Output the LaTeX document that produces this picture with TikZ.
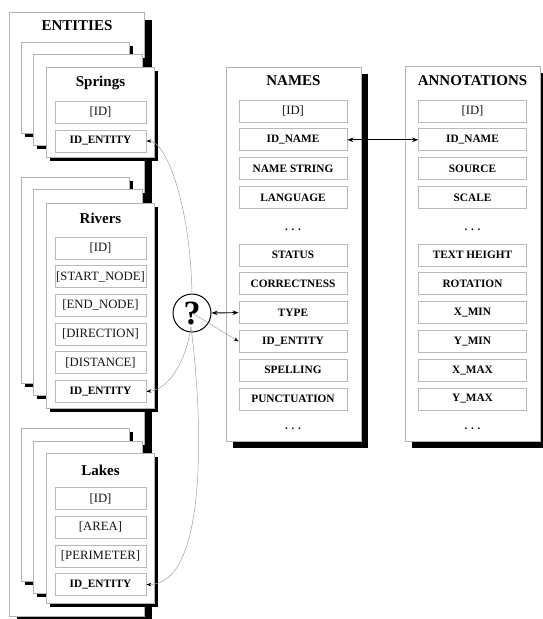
\documentclass[tikz,border=0pt]{standalone}
\usepackage{fontspec}
\setmainfont{Liberation Serif}
\usetikzlibrary{arrows.meta}

\tikzset{
  panel/.style={draw=gray!60, fill=white, line width=0.8pt},
  field/.style={draw=gray!55, fill=white, line width=0.8pt, minimum height=22pt, inner sep=0pt, text=black},
  keyfield/.style={field, font=\fontsize{11.3}{13}\selectfont\bfseries},
  attrfield/.style={field, font=\fontsize{12.7}{14}\selectfont, text=black!92},
  smallfield/.style={minimum width=91pt},
  widefield/.style={minimum width=108pt},
  heading/.style={font=\fontsize{15}{17}\selectfont\bfseries},
  ellip/.style={font=\fontsize{11}{13}\selectfont\bfseries},
  biarrow/.style={draw=black, line width=0.9pt, {Stealth[length=6pt,width=4.5pt]}-{Stealth[length=6pt,width=4.5pt]}},
  link/.style={draw=gray!75, line width=0.5pt, -{Stealth[length=5pt,width=3.5pt,color=black]}},
  query/.style={draw=black, circle, line width=1pt, minimum size=38pt, inner sep=0pt, fill=white, font=\fontsize{34}{36}\selectfont\bfseries},
}

% a card with a black drop shadow: x1 y1 x2 y2 offset
\newcommand\cardbox[5]{%
  \fill[black] (#1+#5,#2+#5) rectangle (#3+#5,#4+#5);
  \draw[panel] (#1,#2) rectangle (#3,#4);
}

\begin{document}
\begin{tikzpicture}[x=1pt,y=-1pt]
\useasboundingbox (0,0) rectangle (543,619);
\clip (0,0) rectangle (543,619);

% ---------------- ENTITIES ----------------
\cardbox{9}{12}{144}{616}{7.5}
\node[heading] (enttitle) at (77,26) {ENTITIES};

% Springs
\cardbox{21}{42}{129}{133}{3.5}
\cardbox{33}{54}{142}{145}{3.5}
\cardbox{46}{67}{154}{157}{3.5}
\node[heading] (sptitle) at (100.5,83) {Springs};
\node[attrfield,smallfield] (sp-id) at (100.5,112) {[ID]};
\node[keyfield,smallfield] (sp-ent) at (100.5,141) {ID\_ENTITY};

% Rivers
\cardbox{21}{177}{129}{383}{3.5}
\cardbox{33}{189}{142}{395}{3.5}
\cardbox{46}{203}{154}{408}{3.5}
\node[heading] (rvtitle) at (100.5,218) {Rivers};
\node[attrfield,smallfield] (rv-id) at (100.5,248) {[ID]};
\node[attrfield,smallfield] (rv-start) at (100.5,276.7) {[START\_NODE]};
\node[attrfield,smallfield] (rv-end) at (100.5,305.4) {[END\_NODE]};
\node[attrfield,smallfield] (rv-dir) at (100.5,334.1) {[DIRECTION]};
\node[attrfield,smallfield] (rv-dist) at (100.5,362.8) {[DISTANCE]};
\node[keyfield,smallfield] (rv-ent) at (100.5,391.5) {ID\_ENTITY};

% Lakes
\cardbox{21}{428}{129}{581}{3.5}
\cardbox{33}{441}{142}{593}{3.5}
\cardbox{46}{453}{154}{603}{3.5}
\node[heading] (lktitle) at (100.5,470) {Lakes};
\node[attrfield,smallfield] (lk-id) at (100.5,498.5) {[ID]};
\node[attrfield,smallfield] (lk-area) at (100.5,527.2) {[AREA]};
\node[attrfield,smallfield] (lk-per) at (100.5,555.9) {[PERIMETER]};
\node[keyfield,smallfield] (lk-ent) at (100.5,584.6) {ID\_ENTITY};

% ---------------- NAMES ----------------
\cardbox{226}{67}{361}{441}{7}
\node[heading] (ntitle) at (293.5,81) {NAMES};
\node[attrfield,widefield] (n-id) at (293,111) {[ID]};
\node[keyfield,widefield] (n-idname) at (293,139.8) {ID\_NAME};
\node[keyfield,widefield] (n-str) at (293,168.6) {NAME STRING};
\node[keyfield,widefield] (n-lang) at (293,197.4) {LANGUAGE};
\node[ellip] (n-dots1) at (293,230) {. . .};
\node[keyfield,widefield] (n-status) at (293,255) {STATUS};
\node[keyfield,widefield] (n-corr) at (293,283.8) {CORRECTNESS};
\node[keyfield,widefield] (n-type) at (293,312.6) {TYPE};
\node[keyfield,widefield] (n-ent) at (293,341.4) {ID\_ENTITY};
\node[keyfield,widefield] (n-spell) at (293,370.2) {SPELLING};
\node[keyfield,widefield] (n-punct) at (293,399) {PUNCTUATION};
\node[ellip] (n-dots2) at (293,429) {. . .};

% ---------------- ANNOTATIONS ----------------
\cardbox{405}{66}{540}{441}{7}
\node[heading] (atitle) at (472.5,81) {ANNOTATIONS};
\node[attrfield,widefield] (a-id) at (472.5,111) {[ID]};
\node[keyfield,widefield] (a-idname) at (472.5,139.8) {ID\_NAME};
\node[keyfield,widefield] (a-src) at (472.5,168.6) {SOURCE};
\node[keyfield,widefield] (a-scale) at (472.5,197.4) {SCALE};
\node[ellip] (a-dots1) at (472.5,230) {. . .};
\node[keyfield,widefield] (a-height) at (472.5,255) {TEXT HEIGHT};
\node[keyfield,widefield] (a-rot) at (472.5,283.8) {ROTATION};
\node[keyfield,widefield] (a-xmin) at (472.5,312.6) {X\_MIN};
\node[keyfield,widefield] (a-ymin) at (472.5,341.4) {Y\_MIN};
\node[keyfield,widefield] (a-xmax) at (472.5,370.2) {X\_MAX};
\node[keyfield,widefield] (a-ymax) at (472.5,399) {Y\_MAX};
\node[ellip] (a-dots2) at (472.5,429) {. . .};

% ---------------- connectors ----------------
\draw[biarrow] (n-idname.east) -- (a-idname.west);

\node[query] (q) at (192,313) {?};
\coordinate (qdot) at (191,327);
\draw[biarrow] (q.east) -- (n-type.west);
\draw[link] (q.center) -- (n-ent.west);
\draw[link] (q.north) .. controls (190,200) and (165,141) .. (sp-ent.east);
\draw[link] (qdot) .. controls (186,360) and (170,389) .. (rv-ent.east);
\draw[link] (qdot) .. controls (203,420) and (208,584) .. (lk-ent.east);
\end{tikzpicture}
\end{document}
